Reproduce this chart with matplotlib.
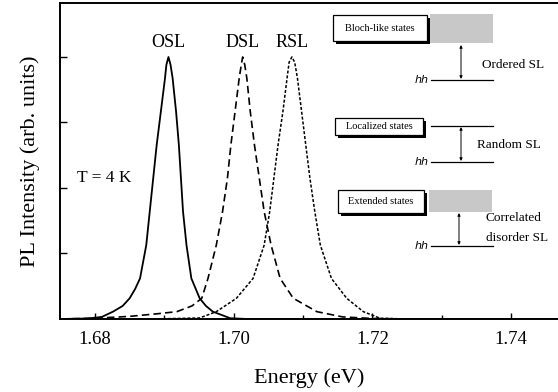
import matplotlib

matplotlib.use("Agg")
import matplotlib.pyplot as plt
from matplotlib.patches import Rectangle

# PL spectra (energy in eV, intensity normalised to peak)
osl_e = [1.6750, 1.6790, 1.6810, 1.6826, 1.6840, 1.6850, 1.6858, 1.6865, 1.6874,
         1.6879, 1.6884, 1.6889, 1.6895, 1.6901, 1.6903, 1.6906, 1.6909, 1.6912,
         1.6917, 1.6921, 1.6924, 1.6927, 1.6932, 1.6939, 1.6951, 1.6960, 1.6970,
         1.6995, 1.7020, 1.7468]
osl_i = [0.000, 0.002, 0.008, 0.028, 0.050, 0.079, 0.115, 0.155, 0.282,
         0.410, 0.537, 0.664, 0.791, 0.919, 0.970, 1.000, 0.970, 0.919,
         0.791, 0.664, 0.537, 0.410, 0.282, 0.155, 0.079, 0.050, 0.028,
         0.003, 0.000, 0.000]

dsl_e = [1.6750, 1.6800, 1.6850, 1.6890, 1.6918, 1.6940, 1.6954, 1.6963, 1.6975,
         1.6984, 1.6991, 1.6996, 1.7002, 1.7008, 1.7011, 1.7013, 1.7016, 1.7019,
         1.7024, 1.7030, 1.7037, 1.7044, 1.7054, 1.7067, 1.7086, 1.7120, 1.7157,
         1.7200, 1.7250, 1.7468]
dsl_i = [0.000, 0.003, 0.010, 0.020, 0.028, 0.050, 0.079, 0.155, 0.282,
         0.410, 0.537, 0.664, 0.791, 0.919, 0.970, 1.000, 0.970, 0.919,
         0.791, 0.664, 0.537, 0.410, 0.282, 0.155, 0.079, 0.028, 0.008,
         0.002, 0.000, 0.000]

rsl_e = [1.6750, 1.6900, 1.6951, 1.6975, 1.7004, 1.7028, 1.7044, 1.7052, 1.7058,
         1.7064, 1.7071, 1.7077, 1.7080, 1.7084, 1.7088, 1.7092, 1.7098, 1.7104,
         1.7110, 1.7117, 1.7125, 1.7141, 1.7163, 1.7187, 1.7211, 1.7250, 1.7468]
rsl_i = [0.000, 0.001, 0.004, 0.028, 0.079, 0.155, 0.282, 0.410, 0.537,
         0.664, 0.791, 0.919, 0.980, 1.000, 0.980, 0.919, 0.791, 0.664,
         0.537, 0.410, 0.282, 0.155, 0.079, 0.028, 0.003, 0.000, 0.000]

x_ticks = [1.68, 1.70, 1.72, 1.74]
x_tick_labels = ["1.68", "1.70", "1.72", "1.74"]
peak_labels = ["OSL", "DSL", "RSL"]

plt.rcParams["font.family"] = ["Liberation Serif", "DejaVu Serif"]

fig = plt.figure(figsize=(5.58, 3.92), dpi=100)
ax = fig.add_axes([60 / 558, 73 / 392, 498 / 558, 316 / 392])

ax.plot(osl_e, osl_i, color="black", lw=1.3, ls="-")
ax.plot(dsl_e, dsl_i, color="black", lw=1.2, ls=(0, (4.5, 2.5)))
ax.plot(rsl_e, rsl_i, color="black", lw=1.1, ls=(0, (2.0, 1.2)))

ax.set_xlim(1.67496, 1.74677)
ax.set_ylim(0, 1.206)
ax.set_xticks(x_ticks)
ax.set_xticklabels(x_tick_labels, fontsize=13.5)
ax.set_xticks([1.69, 1.71, 1.73], minor=True)
ax.set_yticks([0.25, 0.5, 0.75, 1.0])
ax.set_yticklabels([])
ax.tick_params(axis="x", which="major", direction="in", length=4, width=1, pad=9)
ax.tick_params(axis="x", which="minor", direction="in", length=3, width=1)
ax.tick_params(axis="y", direction="in", length=5, width=1)
ax.spines["right"].set_visible(False)
for s in ["left", "bottom", "top"]:
    ax.spines[s].set_linewidth(1.4)

ax.set_xlabel("Energy (eV)", fontsize=16, labelpad=14)
ax.set_ylabel("PL Intensity (arb. units)", fontsize=16, labelpad=11)

# peak labels above each maximum
for lab, e, i in zip(peak_labels, [osl_e, dsl_e, rsl_e], [osl_i, dsl_i, rsl_i]):
    k = i.index(max(i))
    ax.text(e[k], 1.055, lab, ha="center", va="center", fontsize=13)

ax.text(0.035, 0.446, "T = 4 K", transform=ax.transAxes, fontsize=12.5, va="center")

# schematic band diagrams drawn in figure pixel coordinates
ov = fig.add_axes([0, 0, 1, 1], zorder=5)
ov.set_xlim(0, 558)
ov.set_ylim(392, 0)
ov.axis("off")
ov.patch.set_alpha(0)


def state_box(x0, x1, y0, y1, text):
    ov.add_patch(Rectangle((x0 + 2.5, y0 + 2.5), x1 - x0, y1 - y0, color="black", lw=0))
    ov.add_patch(Rectangle((x0, y0), x1 - x0, y1 - y0, facecolor="white", edgecolor="black", lw=0.9))
    ov.text((x0 + x1) / 2, (y0 + y1) / 2, text, ha="center", va="center", fontsize=7.5)


def hh_line(y):
    ov.plot([431, 493], [y, y], color="black", lw=0.9)
    ov.text(429, y, "hh", ha="right", va="center", fontsize=8, style="italic",
            family=["DejaVu Sans"])


def arrow(x, y0, y1):
    ov.annotate("", xy=(x, y1), xytext=(x, y0),
                arrowprops=dict(arrowstyle="<|-|>", lw=0.7, color="black", mutation_scale=4,
                                shrinkA=0, shrinkB=0))


# ordered SL
state_box(333, 427, 15, 41, "Bloch-like states")
ov.add_patch(Rectangle((430, 14), 63, 29, color="#c8c8c8", lw=0))
arrow(461, 45, 79)
hh_line(80)
ov.text(513, 65, "Ordered SL", ha="center", va="center", fontsize=9.5)

# random SL
state_box(335, 423, 118, 135, "Localized states")
ov.plot([431, 493], [126, 126], color="black", lw=0.9)
arrow(461, 127, 161)
hh_line(162)
ov.text(509, 145, "Random SL", ha="center", va="center", fontsize=9.5)

# correlated disorder SL
state_box(338, 424, 190, 213, "Extended states")
ov.add_patch(Rectangle((429, 190), 63, 22, color="#c8c8c8", lw=0))
arrow(459, 213, 245)
hh_line(246)
ov.text(486, 218, "Correlated", ha="left", va="center", fontsize=9.5)
ov.text(486, 238, "disorder SL", ha="left", va="center", fontsize=9.5)

fig.savefig("out.png", dpi=100)
